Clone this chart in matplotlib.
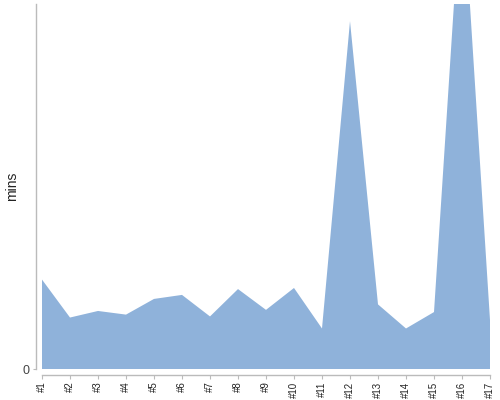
import matplotlib
matplotlib.use("Agg")
import matplotlib.pyplot as plt

plt.rcParams['font.family'] = ['Liberation Sans', 'DejaVu Sans']

categories = ["#%d" % i for i in range(1, 18)]
values = [24.5, 14.1, 15.9, 14.9, 19.2, 20.3, 14.4, 21.9, 16.2, 22.2,
          11.1, 95.3, 17.7, 11.1, 15.6, 134.0, 13.4]
y_ticks = [0]
y_label = "mins"

fig = plt.figure(figsize=(5, 4), dpi=100)
ax = fig.add_axes([42/500, 31/400, 448/500, 365/400])

x = list(range(len(categories)))
ax.fill_between(x, 0, values, color="#8fb2da", linewidth=0)
ax.set_xlim(0, len(categories) - 1)
ax.set_ylim(0, 100)

for s in ["top", "right"]:
    ax.spines[s].set_visible(False)
for s in ["left", "bottom"]:
    ax.spines[s].set_position(("outward", 4))
    ax.spines[s].set_color("#bbbbbb")
    ax.spines[s].set_linewidth(1)

ax.set_xticks(x)
ax.set_xticklabels(categories, rotation=90, fontsize=7, color="#222222")
ax.set_yticks(y_ticks)
ax.set_yticklabels([str(v) for v in y_ticks], fontsize=9, color="#444444")
ax.tick_params(axis="x", length=3, color="#bbbbbb", pad=2)
ax.tick_params(axis="y", length=2, color="#bbbbbb", pad=3)

ax.set_ylabel(y_label, fontsize=10, color="#222222")
ax.yaxis.set_label_coords(-0.051, 0.5)

fig.savefig("out.png", dpi=100)
